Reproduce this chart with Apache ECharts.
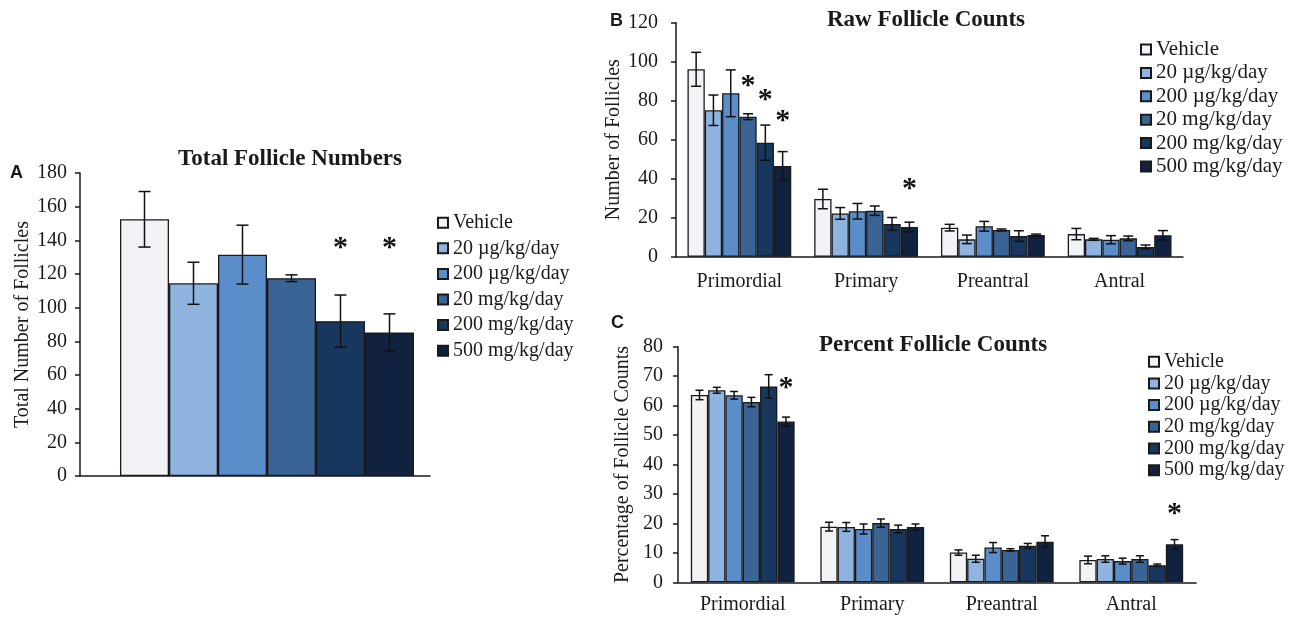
<!DOCTYPE html>
<html><head><meta charset="utf-8">
<script src="https://cdn.jsdelivr.net/npm/echarts@6/dist/echarts.min.js"></script>
<style>html,body{margin:0;padding:0;background:#fff}#c{width:1298px;height:619px}</style>
</head><body><div id="c"></div>
<script>
// ---------- data ----------
const groups = ['Vehicle', '20 µg/kg/day', '200 µg/kg/day', '20 mg/kg/day', '200 mg/kg/day', '500 mg/kg/day'];
const colors = ['#f1f3f6', '#8fb4e0', '#5b8dcb', '#3a6396', '#17375f', '#10223f'];
const stages = ['Primordial', 'Primary', 'Preantral', 'Antral'];

// Panel A: total follicle numbers (one value per group)
const totalMean = [152.5, 114.5, 131.5, 117.5, 92, 85.3];
const totalErr  = [16.5, 12.5, 17.5, 2, 15.5, 11];
const totalStar = [null, null, null, null, 137, 137];

// Panel B: raw follicle counts (rows = groups, columns = stages)
const rawMean = [
  [96.1, 29.6, 14.9, 11.6],
  [75.1, 22.2, 8.9, 8.9],
  [83.8, 23.3, 15.6, 8.7],
  [71.8, 23.6, 13.7, 9.4],
  [58.5, 16.8, 10.6, 5.0],
  [46.5, 15.2, 11.1, 11.0]
];
const rawErr = [
  [8.7, 5.0, 1.7, 2.9],
  [7.8, 3.0, 2.2, 0.5],
  [12.0, 4.0, 2.5, 2.1],
  [1.5, 2.4, 0.5, 1.2],
  [9.0, 3.3, 2.7, 1.0],
  [7.4, 2.5, 0.5, 2.4]
];
const rawStar = [
  [null, null, null, null],
  [null, null, null, null],
  [null, null, null, null],
  [89, null, null, null],
  [82, null, null, null],
  [71, 36, null, null]
];

// Panel C: percent follicle counts
const pctMean = [
  [63.6, 18.9, 10.1, 7.6],
  [65.2, 18.8, 8.0, 7.9],
  [63.5, 18.1, 11.8, 7.2],
  [61.2, 20.1, 11.0, 7.9],
  [66.5, 18.1, 12.4, 5.8],
  [54.6, 18.8, 13.8, 12.9]
];
const pctErr = [
  [1.6, 1.5, 0.9, 1.3],
  [1.0, 1.5, 1.2, 1.1],
  [1.3, 1.7, 1.7, 1.0],
  [1.6, 1.4, 0.4, 1.1],
  [4.0, 1.3, 0.8, 0.4],
  [1.5, 1.0, 2.0, 1.6]
];
const pctStar = [
  [null, null, null, null],
  [null, null, null, null],
  [null, null, null, null],
  [null, null, null, null],
  [null, null, null, null],
  [67, null, null, 24]
];

const yTicksA = {min: 0, max: 180, interval: 20};
const yTicksB = {min: 0, max: 120, interval: 20};
const yTicksC = {min: 0, max: 80, interval: 10};

// ---------- chart ----------
const SERIF = "'Liberation Serif','Times New Roman',serif";
const SANS = "'Liberation Sans',Arial,sans-serif";
const INK = '#1a1a1a';

const panels = [
  {cats: [''], mean: totalMean.map(v => [v]), err: totalErr.map(v => [v]), star: totalStar.map(v => [v]), bw: 49, lead: 24, cap: 12,
   grid: {left: 80, top: 173, width: 350, height: 303}, y: yTicksA, yName: 'Total Number of Follicles', nameGap: 47, yLabMargin: 13, labMargin: 12},
  {cats: stages, mean: rawMean, err: rawErr, star: rawStar, bw: 17.3, lead: 0, cap: 10,
   grid: {left: 676, top: 22.7, width: 507, height: 234}, y: yTicksB, yName: 'Number of Follicles', nameGap: 37, yLabMargin: 18, labMargin: 15},
  {cats: stages, mean: pctMean, err: pctErr, star: pctStar, bw: 17.3, lead: 0, cap: 8,
   grid: {left: 678, top: 346.7, width: 518, height: 235.6}, y: yTicksC, yName: 'Percentage of Follicle Counts', nameGap: 45, yLabMargin: 15, labMargin: 12}
];

const grid = [], xAxis = [], yAxis = [], series = [];
panels.forEach((p, pi) => {
  grid.push(Object.assign({containLabel: false}, p.grid));
  xAxis.push({
    type: 'category', gridIndex: pi, data: p.cats,
    axisLine: {lineStyle: {color: INK, width: 1.5}},
    axisTick: {show: false},
    axisLabel: {show: pi > 0, color: INK, fontFamily: SERIF, fontSize: 20, margin: p.labMargin}
  });
  yAxis.push({
    type: 'value', gridIndex: pi, min: p.y.min, max: p.y.max, interval: p.y.interval,
    name: p.yName, nameLocation: 'middle', nameGap: p.nameGap, nameRotate: 90,
    nameTextStyle: {color: INK, fontFamily: SERIF, fontSize: 20},
    axisLine: {show: true, lineStyle: {color: INK, width: 1.5}},
    axisTick: {show: true, length: 5, lineStyle: {color: INK, width: 1.5}},
    axisLabel: {color: INK, fontFamily: SERIF, fontSize: 20, margin: p.yLabMargin},
    splitLine: {show: false}
  });
  if (p.lead > 0) {
    series.push({type: 'bar', name: '_pad', xAxisIndex: pi, yAxisIndex: pi, data: [null], barWidth: p.lead, barGap: 0, silent: true});
  }
  groups.forEach((g, gi) => {
    series.push({
      type: 'bar', name: g, xAxisIndex: pi, yAxisIndex: pi,
      data: p.mean[gi], barWidth: p.bw, barGap: 0,
      itemStyle: {color: colors[gi], borderColor: INK, borderWidth: 1.3},
      silent: true
    });
  });
  const items = [];
  groups.forEach((g, gi) => p.cats.forEach((c, ci) => {
    items.push({value: [ci, gi, p.mean[gi][ci], p.err[gi][ci]], star: p.star[gi][ci]});
  }));
  series.push({
    type: 'custom', xAxisIndex: pi, yAxisIndex: pi, z: 10, silent: true,
    encode: {x: 0, y: 2},
    data: items.map(it => it.value),
    renderItem: function (params, api) {
      const it = items[params.dataIndex];
      const cat = api.value(0), g = api.value(1), m = api.value(2), e = api.value(3);
      const c = api.coord([cat, m]);
      const x = c[0] - (p.lead + 6 * p.bw) / 2 + p.lead + p.bw * (g + 0.5);
      const children = [];
      const st = {stroke: '#111', lineWidth: 1.5};
      if (e > 0) {
        const yt = api.coord([cat, m + e])[1], yb = api.coord([cat, m - e])[1], h = p.cap / 2;
        children.push({type: 'line', shape: {x1: x, y1: yt, x2: x, y2: yb}, style: st});
        children.push({type: 'line', shape: {x1: x - h, y1: yt, x2: x + h, y2: yt}, style: st});
        children.push({type: 'line', shape: {x1: x - h, y1: yb, x2: x + h, y2: yb}, style: st});
      }
      if (it.star != null) {
        const ys = api.coord([cat, it.star])[1];
        children.push({type: 'text', style: {text: '*', x: x, y: ys + 3, align: 'center', verticalAlign: 'middle',
          fontSize: 30, fontWeight: 'bold', fontFamily: SERIF, fill: '#111'}});
      }
      return {type: 'group', children: children};
    }
  });
});

const legendBase = {
  data: groups, orient: 'vertical', icon: 'rect', itemWidth: 10, itemHeight: 10, padding: 0,
  selectedMode: false,
  textStyle: {color: INK, fontFamily: SERIF, fontSize: 20, lineHeight: 20}
};
const legend = [
  Object.assign({}, legendBase, {left: 437, top: 212.7, itemGap: 5.6}),
  Object.assign({}, legendBase, {left: 1140, top: 39, itemGap: 2.4, textStyle: {color: INK, fontFamily: SERIF, fontSize: 21, lineHeight: 20}}),
  Object.assign({}, legendBase, {left: 1148, top: 351.7, itemGap: 1.7})
];

const titleStyle = {fontFamily: SERIF, fontSize: 23, fontWeight: 'bold', fill: INK, align: 'center', verticalAlign: 'middle'};
const letterStyle = {fontFamily: SANS, fontSize: 18, fontWeight: 'bold', fill: INK, align: 'left', verticalAlign: 'middle'};
const graphic = [
  {type: 'text', x: 290, y: 159, style: Object.assign({}, titleStyle, {text: 'Total Follicle Numbers'})},
  {type: 'text', x: 926, y: 20, style: Object.assign({}, titleStyle, {text: 'Raw Follicle Counts'})},
  {type: 'text', x: 933, y: 345, style: Object.assign({}, titleStyle, {text: 'Percent Follicle Counts'})},
  {type: 'text', x: 10, y: 173, style: Object.assign({}, letterStyle, {text: 'A'})},
  {type: 'text', x: 610, y: 21, style: Object.assign({}, letterStyle, {text: 'B'})},
  {type: 'text', x: 611, y: 323, style: Object.assign({}, letterStyle, {text: 'C'})}
];

const chart = echarts.init(document.getElementById('c'));
chart.setOption({
  animation: false,
  backgroundColor: '#ffffff',
  grid: grid, xAxis: xAxis, yAxis: yAxis, legend: legend, series: series, graphic: graphic
});
</script>
</body></html>
